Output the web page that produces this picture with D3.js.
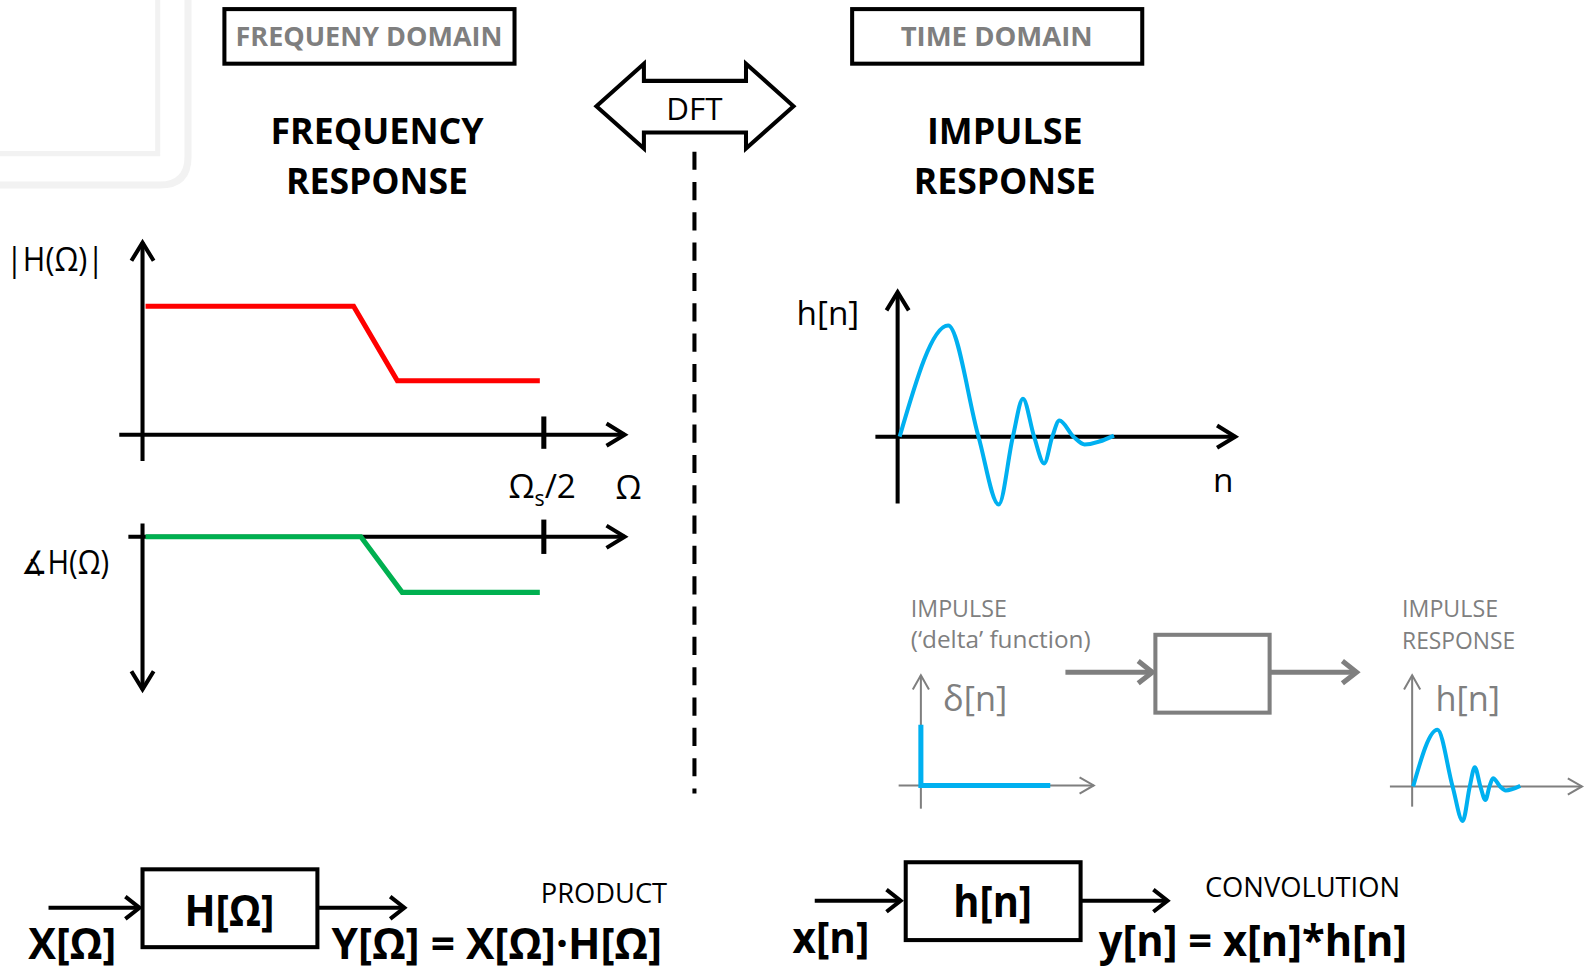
<!DOCTYPE html>
<html lang="en">
<head>
  <meta charset="utf-8">
  <title>Frequency domain / time domain</title>
  <script src="https://d3js.org/d3.v7.min.js"></script>
  <style>
    body { margin: 0; background: #fff; }
    text { font-family: "Open Sans", "DejaVu Sans", sans-serif; }
  </style>
</head>
<body>
<script>
  // magnitude response, Omega as fraction of Omega_s/2
  const magOmega = [0, 0.526, 0.635, 0.99];
  const magGain = [1, 1, 0.42, 0.42];

  // phase response (normalised, 0 .. -1)
  const phaseOmega = [0, 0.544, 0.647, 0.99];
  const phaseVal = [0, 0, -1, -1];

  // impulse response h[n]
  const hN = [0, 4.8, 7.8, 9.8, 11.2, 12.2, 13.3, 14.3, 15.1, 15.8, 17.2, 18.3, 21.2];
  const hVal = [0, 1, 0, -0.61, 0, 0.34, 0, -0.24, 0, 0.145, 0, -0.07, 0.01];

  // delta function
  const deltaN = [0, 0, 12.8];
  const deltaVal = [1, 0, 0];

  const black = "#000", gray = "#7f7f7f", red = "#ff0000", green = "#00b050", blue = "#00b0f0";

  const svg = d3.select("body").append("svg")
    .attr("width", 1585)
    .attr("height", 970);

  // layout was measured on a 1568-wide copy of the picture
  const k = 1585 / 1568;
  const root = svg.append("g").attr("transform", `scale(${k})`);

  // open chevron arrow at the end of a line
  function arrow(g, x1, y1, x2, y2, color, w, headLen, headW) {
    g.append("line")
      .attr("x1", x1).attr("y1", y1).attr("x2", x2).attr("y2", y2)
      .attr("stroke", color).attr("stroke-width", w);
    const a = Math.atan2(y2 - y1, x2 - x1);
    const p = (l, s) => [x2 - l * Math.cos(a) - s * Math.sin(a), y2 - l * Math.sin(a) + s * Math.cos(a)];
    g.append("path")
      .attr("d", d3.line()([p(headLen, -headW), [x2, y2], p(headLen, headW)]))
      .attr("fill", "none").attr("stroke", color).attr("stroke-width", w)
      .attr("stroke-linejoin", "miter").attr("stroke-linecap", "butt");
  }

  function label(x, y, str, size, opts = {}) {
    const t = root.append("text")
      .attr("x", x).attr("y", y)
      .attr("font-size", size)
      .attr("text-anchor", opts.anchor || "start")
      .attr("fill", opts.fill || black)
      .attr("font-weight", opts.bold ? 700 : 400)
      .text(str);
    if (opts.len) t.attr("textLength", opts.len).attr("lengthAdjust", "spacingAndGlyphs");
    return t;
  }

  // faint frame top-left
  root.append("path")
    .attr("d", "M186,0V155Q186,183 158,183H0")
    .attr("fill", "none").attr("stroke", "#f2f2f2").attr("stroke-width", 7);
  root.append("path")
    .attr("d", "M156,0V152H0")
    .attr("fill", "none").attr("stroke", "#f2f2f2").attr("stroke-width", 5);

  // header boxes
  [["FREQUENY DOMAIN", 222, 264], ["TIME DOMAIN", 843, 190]].forEach(([t, x, len]) => {
    root.append("rect").attr("x", x).attr("y", 9).attr("width", 287).attr("height", 54)
      .attr("fill", "none").attr("stroke", black).attr("stroke-width", 4);
    label(x + 143, 46, t, 27, { anchor: "middle", fill: gray, bold: true, len });
  });

  // DFT double arrow
  root.append("path")
    .attr("d", "M590,105L637,63V80H738V63L785,105L738,147V131H637V147Z")
    .attr("fill", "#fff").attr("stroke", black).attr("stroke-width", 4)
    .attr("stroke-linejoin", "miter");
  label(687, 119, "DFT", 31, { anchor: "middle" });

  root.append("line")
    .attr("x1", 687).attr("x2", 687).attr("y1", 150).attr("y2", 785)
    .attr("stroke", black).attr("stroke-width", 4).attr("stroke-dasharray", "18,12");

  // titles
  label(373, 142, "FREQUENCY", 36, { anchor: "middle", bold: true, len: 211 });
  label(373, 192, "RESPONSE", 36, { anchor: "middle", bold: true, len: 180 });
  label(994, 142, "IMPULSE", 36, { anchor: "middle", bold: true, len: 154 });
  label(994, 192, "RESPONSE", 36, { anchor: "middle", bold: true, len: 180 });

  // ---- magnitude plot
  const mx = d3.scaleLinear().domain([0, 1]).range([141, 538]);
  const my = d3.scaleLinear().domain([0, 1]).range([430, 303]);
  const gMag = root.append("g");
  arrow(gMag, mx(0), 456, mx(0), 240, black, 4, 18, 11);
  arrow(gMag, 118, my(0), 618, my(0), black, 4, 18, 11);
  gMag.append("line").attr("x1", mx(1)).attr("x2", mx(1)).attr("y1", 412).attr("y2", 444)
    .attr("stroke", black).attr("stroke-width", 5);
  gMag.append("path")
    .attr("d", d3.line().x((d, i) => mx(magOmega[i]) + (i === 0 ? 3 : 0)).y((d, i) => my(magGain[i]))(magOmega))
    .attr("fill", "none").attr("stroke", red).attr("stroke-width", 5);
  label(6, 268, "|H(Ω)|", 33, { len: 97 });
  const os = label(503, 493, "Ω", 33);
  os.append("tspan").attr("font-size", 21).attr("dy", 8).text("s");
  os.append("tspan").attr("dy", -8).text("/2");
  label(609, 494, "Ω", 33);

  // ---- phase plot
  const py = d3.scaleLinear().domain([-1, 0]).range([586, 531]);
  const gPh = root.append("g");
  arrow(gPh, mx(0), 518, mx(0), 682, black, 4, 18, 11);
  arrow(gPh, 127, py(0), 618, py(0), black, 4, 18, 11);
  gPh.append("line").attr("x1", mx(1)).attr("x2", mx(1)).attr("y1", 514).attr("y2", 548)
    .attr("stroke", black).attr("stroke-width", 5);
  gPh.append("path")
    .attr("d", d3.line().x((d, i) => mx(phaseOmega[i]) + (i === 0 ? 3 : 0)).y((d, i) => py(phaseVal[i]))(phaseOmega))
    .attr("fill", "none").attr("stroke", green).attr("stroke-width", 5);
  label(21, 568, "∡H(Ω)", 32, { len: 87 });

  // ---- impulse response
  const hx = d3.scaleLinear().domain([0, 1]).range([888, 898]);
  const hy = d3.scaleLinear().domain([0, 1]).range([432, 322]);
  const gH = root.append("g");
  arrow(gH, hx(0), 498, hx(0), 289, black, 4, 18, 11);
  arrow(gH, 866, hy(0), 1222, hy(0), black, 4, 18, 11);
  gH.append("path")
    .attr("d", d3.line().curve(d3.curveMonotoneX).x((d, i) => hx(hN[i]) + 2).y((d, i) => hy(hVal[i]))(hN))
    .attr("fill", "none").attr("stroke", blue).attr("stroke-width", 4);
  label(788, 322, "h[n]", 33);
  label(1200, 487, "n", 33);

  // ---- small impulse -> system -> response sketch
  const dx = d3.scaleLinear().domain([0, 1]).range([911, 921]);
  const dy = d3.scaleLinear().domain([0, 1]).range([777, 717]);
  const gD = root.append("g");
  arrow(gD, dx(0), 800, dx(0), 668, gray, 2, 14, 8);
  arrow(gD, 889, dy(0), 1082, dy(0), gray, 2, 14, 8);
  gD.append("path")
    .attr("d", d3.line().x((d, i) => dx(deltaN[i])).y((d, i) => dy(deltaVal[i]))(deltaN))
    .attr("fill", "none").attr("stroke", blue).attr("stroke-width", 5).attr("stroke-linejoin", "miter");
  label(901, 610, "IMPULSE", 23, { fill: gray, len: 95 });
  label(901, 641, "(‘delta’ function)", 23, { fill: gray, len: 178 });
  label(933, 703, "δ[n]", 34, { fill: gray });

  arrow(gD, 1054, 665, 1140, 665, gray, 5, 14, 11);
  gD.append("rect").attr("x", 1143).attr("y", 628).attr("width", 113).attr("height", 77)
    .attr("fill", "none").attr("stroke", gray).attr("stroke-width", 4);
  arrow(gD, 1256, 665, 1342, 665, gray, 5, 14, 11);

  const sx = d3.scaleLinear().domain([0, 1]).range([1397, 1402]);
  const sy = d3.scaleLinear().domain([0, 1]).range([778, 722]);
  arrow(gD, sx(0), 798, sx(0), 668, gray, 2, 14, 8);
  arrow(gD, 1375, sy(0), 1565, sy(0), gray, 2, 14, 8);
  gD.append("path")
    .attr("d", d3.line().curve(d3.curveMonotoneX).x((d, i) => sx(hN[i]) + 1).y((d, i) => sy(hVal[i]))(hN))
    .attr("fill", "none").attr("stroke", blue).attr("stroke-width", 4);
  label(1387, 610, "IMPULSE", 23, { fill: gray, len: 95 });
  label(1387, 642, "RESPONSE", 23, { fill: gray, len: 112 });
  label(1420, 703, "h[n]", 34, { fill: gray });

  // ---- bottom block diagrams
  const gB = root.append("g");
  arrow(gB, 48, 898, 138, 898, black, 4, 14, 11);
  gB.append("rect").attr("x", 141).attr("y", 860).attr("width", 173).attr("height", 77)
    .attr("fill", "none").attr("stroke", black).attr("stroke-width", 4);
  arrow(gB, 314, 898, 400, 898, black, 4, 14, 11);
  label(227, 916, "H[Ω]", 43, { anchor: "middle", bold: true, len: 89 });
  label(28, 949, "X[Ω]", 42, { bold: true, len: 87 });
  label(328, 949, "Y[Ω] = X[Ω]·H[Ω]", 42, { bold: true, len: 327 });
  label(535, 893, "PRODUCT", 27, { len: 125 });

  arrow(gB, 806, 891, 891, 891, black, 4, 14, 11);
  gB.append("rect").attr("x", 896).attr("y", 853).attr("width", 173).attr("height", 77)
    .attr("fill", "none").attr("stroke", black).attr("stroke-width", 4);
  arrow(gB, 1069, 891, 1155, 891, black, 4, 14, 11);
  label(982, 907, "h[n]", 43, { anchor: "middle", bold: true, len: 78 });
  label(784, 943, "x[n]", 43, { bold: true, len: 76 });
  label(1087, 946, "y[n] = x[n]*h[n]", 43, { bold: true, len: 305 });
  label(1192, 887, "CONVOLUTION", 27, { len: 193 });
</script>
</body>
</html>
